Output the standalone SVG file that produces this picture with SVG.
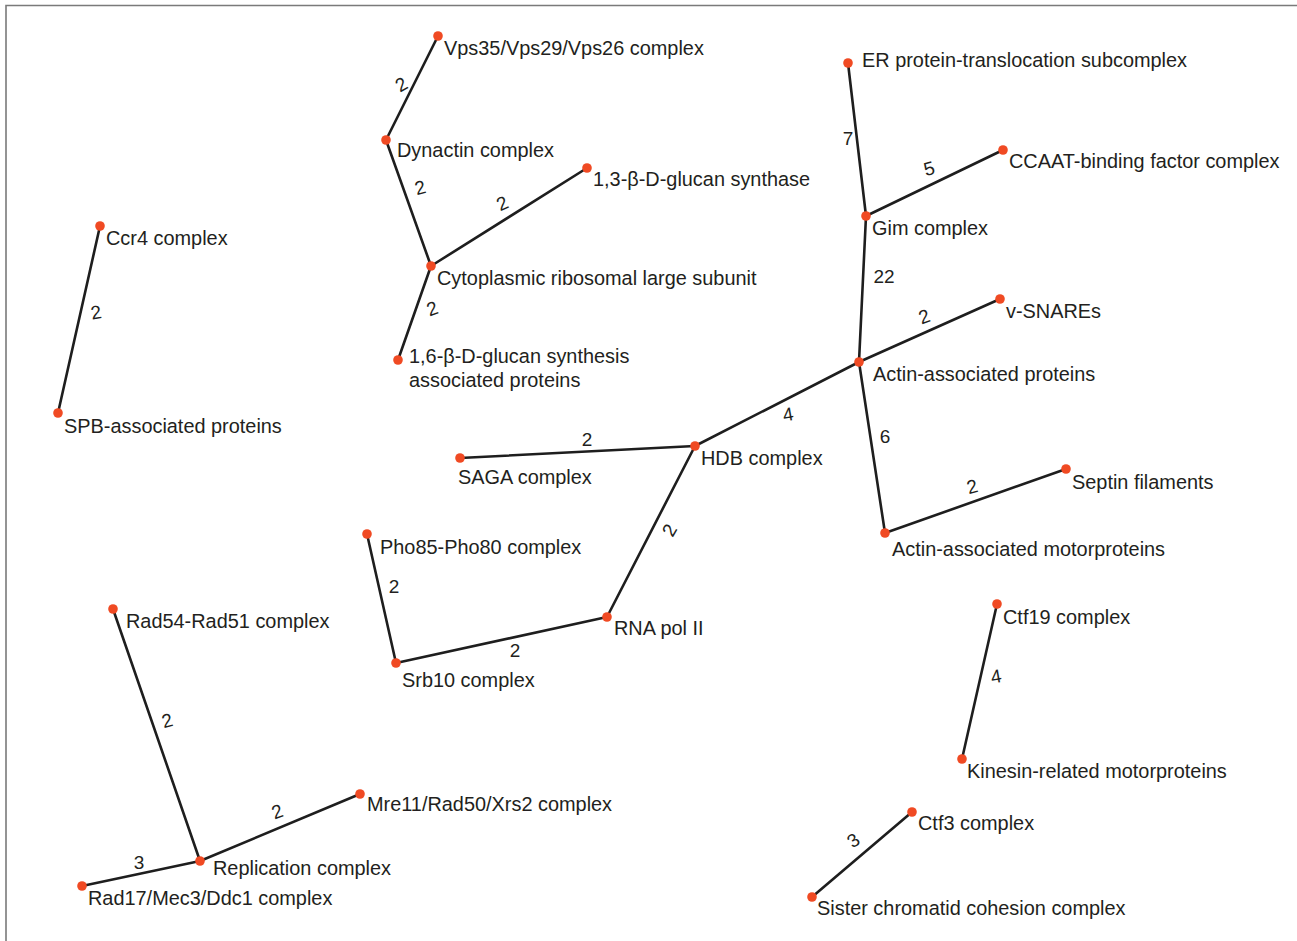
<svg xmlns="http://www.w3.org/2000/svg" width="1297" height="941" viewBox="0 0 1297 941">
<defs>
<style>
.bg{fill:#ffffff}
.frame{fill:none;stroke:#7a7a7a;stroke-width:1.6}
.e{stroke:#1e1e1e;stroke-width:2.6;fill:none;stroke-linecap:round}
.d{fill:#f04a23}
text{font-family:"Liberation Sans",Arial,Helvetica,sans-serif;font-size:19.9px;fill:#231f20}
.w{font-size:19px}
</style>
</defs>
<rect class="bg" x="0" y="0" width="1297" height="941"/>
<polyline class="frame" points="6,941 6,5.5 1297,5.5"/>
<g id="connectors">
<line class="e" x1="438" y1="36" x2="386" y2="140"/>
<line class="e" x1="386" y1="140" x2="431" y2="266"/>
<line class="e" x1="431" y1="266" x2="587" y2="168"/>
<line class="e" x1="431" y1="266" x2="398" y2="360"/>
<line class="e" x1="100" y1="226" x2="58" y2="413"/>
<line class="e" x1="848" y1="63" x2="866" y2="216"/>
<line class="e" x1="866" y1="216" x2="1003" y2="150"/>
<line class="e" x1="866" y1="216" x2="859" y2="362"/>
<line class="e" x1="859" y1="362" x2="1000" y2="299"/>
<line class="e" x1="859" y1="362" x2="695" y2="446"/>
<line class="e" x1="859" y1="362" x2="885" y2="533"/>
<line class="e" x1="885" y1="533" x2="1066" y2="469"/>
<line class="e" x1="460" y1="458" x2="695" y2="446"/>
<line class="e" x1="695" y1="446" x2="607" y2="617"/>
<line class="e" x1="367" y1="534" x2="396" y2="663"/>
<line class="e" x1="396" y1="663" x2="607" y2="617"/>
<line class="e" x1="113" y1="609" x2="200" y2="861"/>
<line class="e" x1="200" y1="861" x2="360" y2="794"/>
<line class="e" x1="82" y1="886" x2="200" y2="861"/>
<line class="e" x1="997" y1="604" x2="962" y2="759"/>
<line class="e" x1="912" y1="812" x2="812" y2="897"/>
</g>
<g id="edge-labels">
<text class="w" x="401" y="91" text-anchor="middle" transform="rotate(-30 401 84)">2</text>
<text class="w" x="420" y="194" text-anchor="middle" transform="rotate(-15 420 187)">2</text>
<text class="w" x="502" y="210" text-anchor="middle" transform="rotate(-25 502 203)">2</text>
<text class="w" x="432" y="315" text-anchor="middle" transform="rotate(-20 432 308)">2</text>
<text class="w" x="96" y="319" text-anchor="middle" transform="rotate(-10 96 312)">2</text>
<text class="w" x="848" y="145" text-anchor="middle">7</text>
<text class="w" x="929" y="175" text-anchor="middle" transform="rotate(-15 929 168)">5</text>
<text class="w" x="884" y="283" text-anchor="middle">22</text>
<text class="w" x="924" y="323" text-anchor="middle" transform="rotate(-20 924 316)">2</text>
<text class="w" x="788" y="421" text-anchor="middle" transform="rotate(-10 788 414)">4</text>
<text class="w" x="885" y="443" text-anchor="middle">6</text>
<text class="w" x="972" y="493" text-anchor="middle" transform="rotate(-15 972 486)">2</text>
<text class="w" x="587" y="446" text-anchor="middle">2</text>
<text class="w" x="669" y="537" text-anchor="middle" transform="rotate(-60 669 530)">2</text>
<text class="w" x="394" y="593" text-anchor="middle">2</text>
<text class="w" x="515" y="657" text-anchor="middle">2</text>
<text class="w" x="167" y="727" text-anchor="middle" transform="rotate(-15 167 720)">2</text>
<text class="w" x="277" y="818" text-anchor="middle" transform="rotate(-20 277 811)">2</text>
<text class="w" x="139" y="869" text-anchor="middle">3</text>
<text class="w" x="996" y="683" text-anchor="middle" transform="rotate(-10 996 676)">4</text>
<text class="w" x="853" y="847" text-anchor="middle" transform="rotate(-35 853 840)">3</text>
</g>
<g id="n-vps"><circle class="d" cx="438" cy="36" r="4.8"/><text x="444" y="55">Vps35/Vps29/Vps26 complex</text></g>
<g id="n-dynactin"><circle class="d" cx="386" cy="140" r="4.8"/><text x="397" y="157">Dynactin complex</text></g>
<g id="n-glucan13"><circle class="d" cx="587" cy="168" r="4.8"/><text x="593" y="186">1,3-β-D-glucan synthase</text></g>
<g id="n-cyto"><circle class="d" cx="431" cy="266" r="4.8"/><text x="437" y="285">Cytoplasmic ribosomal large subunit</text></g>
<g id="n-glucan16"><circle class="d" cx="398" cy="360" r="4.8"/><text x="409" y="363">1,6-β-D-glucan synthesis</text><text x="409" y="387">associated proteins</text></g>
<g id="n-ccr4"><circle class="d" cx="100" cy="226" r="4.8"/><text x="106" y="245">Ccr4 complex</text></g>
<g id="n-spb"><circle class="d" cx="58" cy="413" r="4.8"/><text x="64" y="433">SPB-associated proteins</text></g>
<g id="n-er"><circle class="d" cx="848" cy="63" r="4.8"/><text x="862" y="67">ER protein-translocation subcomplex</text></g>
<g id="n-ccaat"><circle class="d" cx="1003" cy="150" r="4.8"/><text x="1009" y="168">CCAAT-binding factor complex</text></g>
<g id="n-gim"><circle class="d" cx="866" cy="216" r="4.8"/><text x="872" y="235">Gim complex</text></g>
<g id="n-vsnare"><circle class="d" cx="1000" cy="299" r="4.8"/><text x="1006" y="318">v-SNAREs</text></g>
<g id="n-actin"><circle class="d" cx="859" cy="362" r="4.8"/><text x="873" y="381">Actin-associated proteins</text></g>
<g id="n-hdb"><circle class="d" cx="695" cy="446" r="4.8"/><text x="701" y="465">HDB complex</text></g>
<g id="n-saga"><circle class="d" cx="460" cy="458" r="4.8"/><text x="458" y="484">SAGA complex</text></g>
<g id="n-septin"><circle class="d" cx="1066" cy="469" r="4.8"/><text x="1072" y="489">Septin filaments</text></g>
<g id="n-motor"><circle class="d" cx="885" cy="533" r="4.8"/><text x="892" y="556">Actin-associated motorproteins</text></g>
<g id="n-pho85"><circle class="d" cx="367" cy="534" r="4.8"/><text x="380" y="554">Pho85-Pho80 complex</text></g>
<g id="n-rnapol"><circle class="d" cx="607" cy="617" r="4.8"/><text x="614" y="635">RNA pol II</text></g>
<g id="n-srb10"><circle class="d" cx="396" cy="663" r="4.8"/><text x="402" y="687">Srb10 complex</text></g>
<g id="n-rad54"><circle class="d" cx="113" cy="609" r="4.8"/><text x="126" y="628">Rad54-Rad51 complex</text></g>
<g id="n-mre11"><circle class="d" cx="360" cy="794" r="4.8"/><text x="367" y="811">Mre11/Rad50/Xrs2 complex</text></g>
<g id="n-replication"><circle class="d" cx="200" cy="861" r="4.8"/><text x="213" y="875">Replication complex</text></g>
<g id="n-rad17"><circle class="d" cx="82" cy="886" r="4.8"/><text x="88" y="905">Rad17/Mec3/Ddc1 complex</text></g>
<g id="n-ctf19"><circle class="d" cx="997" cy="604" r="4.8"/><text x="1003" y="624">Ctf19 complex</text></g>
<g id="n-kinesin"><circle class="d" cx="962" cy="759" r="4.8"/><text x="967" y="778">Kinesin-related motorproteins</text></g>
<g id="n-ctf3"><circle class="d" cx="912" cy="812" r="4.8"/><text x="918" y="830">Ctf3 complex</text></g>
<g id="n-sister"><circle class="d" cx="812" cy="897" r="4.8"/><text x="817" y="915">Sister chromatid cohesion complex</text></g>
</svg>
